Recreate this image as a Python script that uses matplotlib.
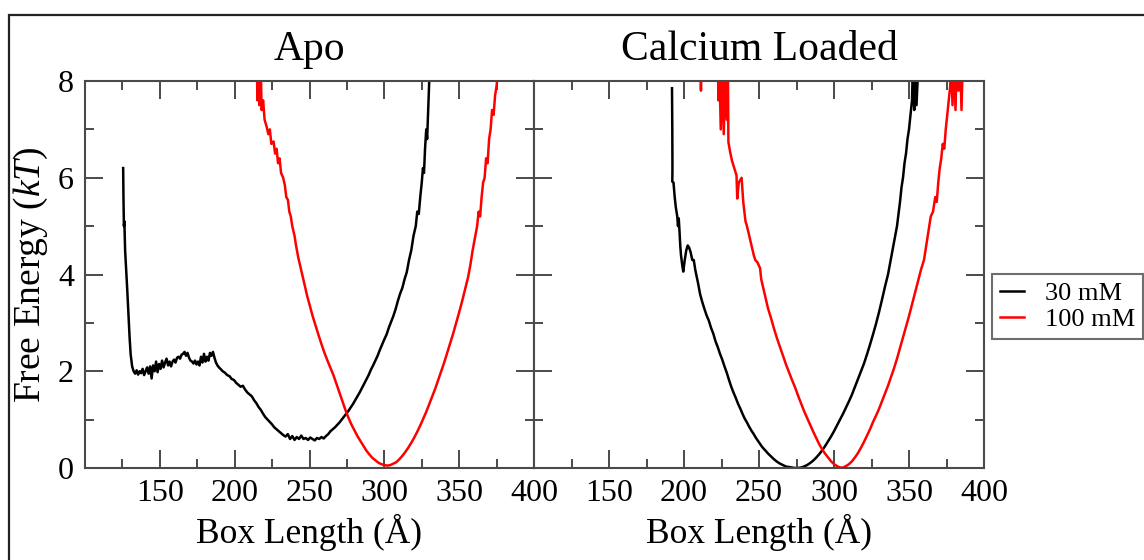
import numpy as np
import matplotlib
matplotlib.use('Agg')
import matplotlib.pyplot as plt
from matplotlib.patches import Rectangle
from matplotlib.ticker import MultipleLocator

plt.rcParams['font.family'] = ['Liberation Serif', 'DejaVu Serif']
plt.rcParams['mathtext.fontset'] = 'custom'
plt.rcParams['mathtext.rm'] = 'Liberation Serif'
plt.rcParams['mathtext.it'] = 'Liberation Serif:italic'

# Apo, 30 mM
apo30_x = [125.5, 125.7, 126.0, 126.3, 126.8, 127.5, 128.2, 129.0, 129.8, 130.5, 131.5, 132.5,
           133.5, 134.5, 135.5, 136.5, 137.5, 138.5, 139.5, 140.5, 141.5, 142.5, 143.5, 144.5,
           145.5, 146.5, 147.5, 148.5, 149.5, 150.5, 151.5, 152.5, 153.5, 154.5, 155.5, 156.5,
           157.5, 158.5, 159.5, 160.5, 161.5, 162.5, 163.5, 164.5, 165.5, 166.5, 167.5, 168.5,
           169.5, 170.5, 171.5, 172.5, 173.5, 174.5, 175.5, 176.5, 177.5, 178.5, 179.5, 180.5,
           181.5, 182.5, 183.5, 184.5, 185.5, 186.5, 187.5, 188.5, 189.5, 190.5, 192.0, 193.5,
           195.0, 196.5, 198.0, 199.5, 201.0, 202.5, 204.0, 205.5, 207.0, 208.5, 210.0, 211.5,
           213.0, 214.5, 216.0, 217.5, 219.0, 220.5, 222.0, 223.5, 225.0, 226.5, 228.0, 229.5,
           231.0, 232.5, 234.0, 235.5, 237.0, 238.5, 240.0, 241.5, 243.0, 244.5, 246.0, 247.5,
           249.0, 250.5, 252.0, 253.5, 255.0, 256.5, 258.0, 259.5, 261.0, 262.5, 264.0, 265.5,
           267.0, 268.5, 270.0, 271.5, 273.0, 274.5, 276.0, 277.5, 279.0, 280.5, 282.0, 283.5,
           285.0, 286.5, 288.0, 289.5, 291.0, 292.5, 294.0, 295.5, 297.0, 298.5, 300.0, 301.5,
           303.0, 304.5, 306.0, 307.5, 309.0, 310.5, 312.0, 313.5, 315.0, 316.5, 318.0, 319.5,
           321.0, 322.0, 323.0, 324.0, 325.0, 325.8, 326.5, 327.2, 328.0, 328.6, 329.3, 330.0,
           331.0]
apo30_y = [6.2, 5.6, 5.0, 5.1, 4.5, 4.1, 3.7, 3.2, 2.7, 2.35, 2.1, 2.0,
           1.95, 2.02, 1.93, 2.0, 1.96, 2.05, 1.92, 2.0, 2.08, 1.95, 2.1, 1.85,
           2.12, 2.0, 2.2, 1.98, 2.15, 2.05, 2.22, 2.08, 2.18, 2.26, 2.12, 2.2,
           2.1, 2.2, 2.24, 2.18, 2.28, 2.3, 2.26, 2.34, 2.36, 2.4, 2.32, 2.38,
           2.28, 2.22, 2.2, 2.16, 2.22, 2.14, 2.2, 2.12, 2.3, 2.18, 2.36, 2.2,
           2.3, 2.22, 2.38, 2.32, 2.4, 2.28, 2.18, 2.12, 2.08, 2.05, 2.0, 1.97,
           1.92, 1.9, 1.84, 1.82, 1.76, 1.72, 1.68, 1.7, 1.62, 1.56, 1.52, 1.48,
           1.4, 1.34, 1.26, 1.2, 1.12, 1.05, 1.0, 0.95, 0.9, 0.84, 0.8, 0.76,
           0.72, 0.68, 0.65, 0.7, 0.6, 0.66, 0.58, 0.64, 0.6, 0.67, 0.6, 0.62,
           0.58, 0.63, 0.6, 0.57, 0.62, 0.6, 0.64, 0.61, 0.66, 0.7, 0.76, 0.8,
           0.84, 0.89, 0.94, 1.0, 1.06, 1.12, 1.18, 1.25, 1.32, 1.4, 1.48, 1.56,
           1.65, 1.74, 1.83, 1.92, 2.03, 2.12, 2.22, 2.32, 2.44, 2.55, 2.66, 2.76,
           2.9, 3.02, 3.14, 3.28, 3.45, 3.6, 3.72, 3.9, 4.05, 4.3, 4.5, 4.8,
           5.0, 5.3, 5.25, 5.6, 5.9, 6.2, 6.1, 6.6, 7.0, 6.8, 7.4, 8.0,
           8.5]

# Apo, 100 mM
apo100_x = [214.8, 215.2, 216.0, 216.5, 217.5, 218.0, 219.0, 220.0, 221.4, 222.5, 223.5, 224.5,
            226.0, 227.0, 228.0, 229.0, 230.0, 231.0, 232.4, 233.5, 234.5, 235.6, 236.5, 237.5,
            238.5, 240.0, 241.0, 242.5, 244.0, 245.5, 247.0, 248.5, 250.0, 252.0, 254.0, 256.0,
            258.0, 260.0, 262.0, 264.0, 266.0, 268.0, 270.0, 272.0, 274.0, 276.0, 278.0, 280.0,
            282.0, 284.0, 286.0, 288.0, 290.0, 292.0, 294.0, 296.0, 298.0, 300.0, 302.0, 304.0,
            306.0, 308.0, 310.0, 312.0, 314.0, 316.0, 318.0, 320.0, 322.0, 324.0, 326.0, 328.0,
            330.0, 332.0, 334.0, 336.0, 338.0, 340.0, 342.0, 344.0, 346.0, 348.0, 350.0, 352.0,
            354.0, 356.0, 357.5, 359.0, 360.5, 362.0, 363.0, 364.0, 365.0, 366.0, 367.0, 368.0,
            369.0, 370.0, 371.0, 372.0, 373.0, 374.0, 375.0, 376.0]
apo100_y = [8.5, 7.6, 8.3, 7.5, 8.2, 7.4, 7.6, 7.2, 7.05, 6.9, 7.0, 6.7,
            6.75, 6.5, 6.6, 6.3, 6.4, 6.1, 6.0, 5.85, 5.6, 5.54, 5.3, 5.2,
            5.0, 4.8, 4.6, 4.35, 4.15, 3.95, 3.75, 3.55, 3.38, 3.15, 2.95, 2.75,
            2.56, 2.38, 2.22, 2.07, 1.92, 1.74, 1.56, 1.38, 1.2, 1.04, 0.9, 0.78,
            0.66, 0.56, 0.46, 0.36, 0.28, 0.21, 0.16, 0.11, 0.08, 0.06, 0.05, 0.06,
            0.09, 0.12, 0.18, 0.25, 0.33, 0.42, 0.52, 0.63, 0.75, 0.88, 1.02, 1.16,
            1.32, 1.48, 1.64, 1.82, 2.0, 2.18, 2.38, 2.58, 2.78, 3.0, 3.22, 3.45,
            3.7, 3.95, 4.2, 4.5, 4.75, 5.0, 5.3, 5.2, 5.6, 5.9, 6.0, 6.4,
            6.3, 6.8, 7.0, 7.4, 7.3, 7.7, 7.9, 8.2]

# Calcium loaded, 30 mM
ca30_x = [192.0, 192.2, 192.3, 192.2, 193.0, 193.8, 194.5, 195.5, 196.0, 196.5, 197.0, 197.5,
          198.0, 198.8, 199.5, 200.5, 201.5, 202.5, 203.5, 204.5, 205.5, 206.5, 207.5, 208.5,
          209.5, 210.7, 212.0, 213.5, 215.0, 216.5, 218.0, 219.5, 221.0, 222.5, 224.0, 225.5,
          227.0, 228.5, 230.0, 231.5, 233.0, 234.5, 236.0, 237.5, 239.0, 240.5, 242.0, 243.5,
          245.0, 246.5, 248.0, 250.0, 252.0, 254.0, 256.0, 258.0, 260.0, 262.0, 264.0, 266.0,
          268.0, 270.0, 272.0, 274.0, 276.0, 278.0, 280.0, 282.0, 284.0, 286.0, 288.0, 290.0,
          292.0, 294.0, 296.0, 298.0, 300.0, 302.0, 304.0, 306.0, 308.0, 310.0, 312.0, 314.0,
          316.0, 318.0, 320.0, 322.0, 324.0, 326.0, 328.0, 330.0, 332.0, 334.0, 336.0, 337.5,
          339.0, 340.5, 342.0, 343.0, 344.0, 345.0, 346.0, 347.0, 348.0, 349.0, 350.0, 351.0,
          352.0, 352.5, 353.5, 354.0, 355.0, 356.0]
ca30_y = [7.85, 7.0, 6.2, 5.92, 5.9, 5.6, 5.4, 5.2, 5.0, 5.16, 4.9, 4.6,
          4.4, 4.2, 4.06, 4.3, 4.5, 4.6, 4.55, 4.45, 4.3, 4.3, 4.1, 3.95,
          3.8, 3.6, 3.45, 3.3, 3.16, 3.05, 2.9, 2.78, 2.62, 2.5, 2.36, 2.24,
          2.1, 1.97, 1.82, 1.68, 1.56, 1.45, 1.33, 1.23, 1.12, 1.02, 0.94, 0.85,
          0.77, 0.7, 0.62, 0.53, 0.44, 0.37, 0.3, 0.24, 0.18, 0.13, 0.09, 0.06,
          0.03, 0.02, 0.01, 0.0, 0.0, 0.01, 0.03, 0.06, 0.1, 0.15, 0.21, 0.28,
          0.36, 0.45, 0.55, 0.65, 0.76, 0.88, 1.0, 1.12, 1.25, 1.38, 1.52, 1.68,
          1.84, 2.0, 2.16, 2.35, 2.55, 2.76, 2.98, 3.22, 3.48, 3.75, 4.0, 4.25,
          4.5, 4.75, 5.0, 5.25, 5.5, 5.8, 6.0, 6.3, 6.5, 6.8, 7.0, 7.3,
          7.6, 8.2, 7.4, 8.2, 7.5, 8.2]

# Calcium loaded, 100 mM
ca100_x = [211.0, 211.3, 211.6, 222.5, 223.0, 223.5, 224.5, 225.5, 226.5, 227.5, 228.5, 229.3,
           229.6, 230.7, 232.0, 233.5, 235.0, 235.5, 236.5, 238.4, 239.5, 241.0, 241.8, 243.5,
           245.0, 246.5, 247.5, 249.0, 250.7, 251.5, 253.0, 254.5, 256.0, 258.0, 260.0, 262.0,
           264.0, 266.0, 268.0, 270.0, 272.0, 274.0, 276.0, 278.0, 280.0, 282.0, 284.0, 286.0,
           288.0, 290.0, 292.0, 294.0, 296.0, 298.0, 300.0, 302.0, 304.0, 306.0, 308.0, 310.0,
           312.0, 314.0, 316.0, 318.0, 320.0, 322.0, 324.0, 326.0, 328.0, 330.0, 332.0, 334.0,
           336.0, 338.0, 340.0, 342.0, 344.0, 346.0, 348.0, 350.0, 352.0, 354.0, 356.0, 358.0,
           360.0, 361.5, 363.0, 364.5, 366.0, 367.5, 368.5, 369.5, 370.5, 371.5, 372.5, 373.5,
           374.5, 375.5, 376.5, 377.5, 378.0, 379.0, 380.0, 381.0, 382.0, 383.0, 384.0, 385.0,
           386.0]
ca100_y = [8.6, 7.8, 8.6, 8.6, 7.6, 8.4, 7.0, 8.3, 6.9, 8.2, 7.2, 8.1,
           6.74, 6.54, 6.35, 6.2, 6.05, 5.57, 5.9, 6.0, 5.5, 5.1, 5.02, 4.8,
           4.6, 4.4, 4.3, 4.25, 4.13, 3.9, 3.7, 3.5, 3.3, 3.1, 2.88, 2.68,
           2.5, 2.32, 2.14, 1.98, 1.82, 1.67, 1.5, 1.34, 1.18, 1.04, 0.9, 0.76,
           0.63, 0.5, 0.39, 0.3, 0.22, 0.14, 0.08, 0.04, 0.01, 0.01, 0.04, 0.08,
           0.14, 0.22, 0.31, 0.42, 0.54, 0.67, 0.8, 0.95, 1.08, 1.22, 1.38, 1.54,
           1.7, 1.88, 2.06, 2.26, 2.48, 2.7, 2.92, 3.14, 3.38, 3.62, 3.86, 4.1,
           4.3, 4.6, 4.9, 5.2, 5.3, 5.6, 5.5, 5.9, 6.2, 6.4, 6.7, 6.6,
           7.0, 7.3, 7.6, 7.9, 8.6, 7.5, 8.6, 7.4, 8.6, 7.8, 8.6, 7.4,
           8.6]

titles = ['Apo', 'Calcium Loaded']
labels = ['30 mM', '100 mM']
colors = ['black', 'red']
xtick_major = [150, 200, 250, 300, 350, 400]
ytick_major = [0, 2, 4, 6, 8]

fig = plt.figure(figsize=(11.44, 5.6), dpi=100)
ax1 = fig.add_axes([85 / 1144, 1 - 468 / 560, 449 / 1144, 387 / 560])
ax2 = fig.add_axes([534 / 1144, 1 - 468 / 560, 450 / 1144, 387 / 560])

spine_col = '#4a4a4a'
series = [((apo30_x, apo30_y), (apo100_x, apo100_y)),
          ((ca30_x, ca30_y), (ca100_x, ca100_y))]

for ax, title, data in zip([ax1, ax2], titles, series):
    for (xs, ys), c, lab in zip(data, colors, labels):
        ax.plot(xs, ys, color=c, lw=1.8, label=lab)
    ax.set_xlim(100, 400)
    ax.set_ylim(0, 8)
    ax.set_xticks(xtick_major)
    ax.xaxis.set_minor_locator(MultipleLocator(25))
    ax.set_yticks(ytick_major)
    ax.yaxis.set_minor_locator(MultipleLocator(1))
    ax.tick_params(which='both', direction='in', top=True, right=True,
                   color=spine_col, width=1.4, labelsize=23, pad=8)
    ax.tick_params(which='major', length=13)
    ax.tick_params(which='minor', length=6.5)
    for sp in ax.spines.values():
        sp.set_color(spine_col)
        sp.set_linewidth(1.5)
    ax.set_title(title, fontsize=30, pad=15)
    ax.set_xlabel('Box Length (Å)', fontsize=25.5, labelpad=4)

ax1.set_ylabel('Free Energy ($kT$)', fontsize=27, labelpad=6)
ax2.tick_params(labelleft=False)

handles, lbls = ax2.get_legend_handles_labels()
leg = fig.legend(handles, lbls, loc='upper left', bbox_to_anchor=(992 / 1144, 1 - 274 / 560),
                 fontsize=19, frameon=True, fancybox=False, handlelength=0.9,
                 handletextpad=0.8, borderpad=0.3, labelspacing=0.1, borderaxespad=0)
leg.get_frame().set_edgecolor(spine_col)
leg.get_frame().set_linewidth(1.5)

# outer frame around the figure
fig.patches.append(Rectangle((9 / 1144, -0.05), 1.2, 1 - 15 / 560 + 0.05,
                             transform=fig.transFigure, fill=False,
                             edgecolor='#222222', lw=1.6))

fig.savefig('out.png', dpi=100)
